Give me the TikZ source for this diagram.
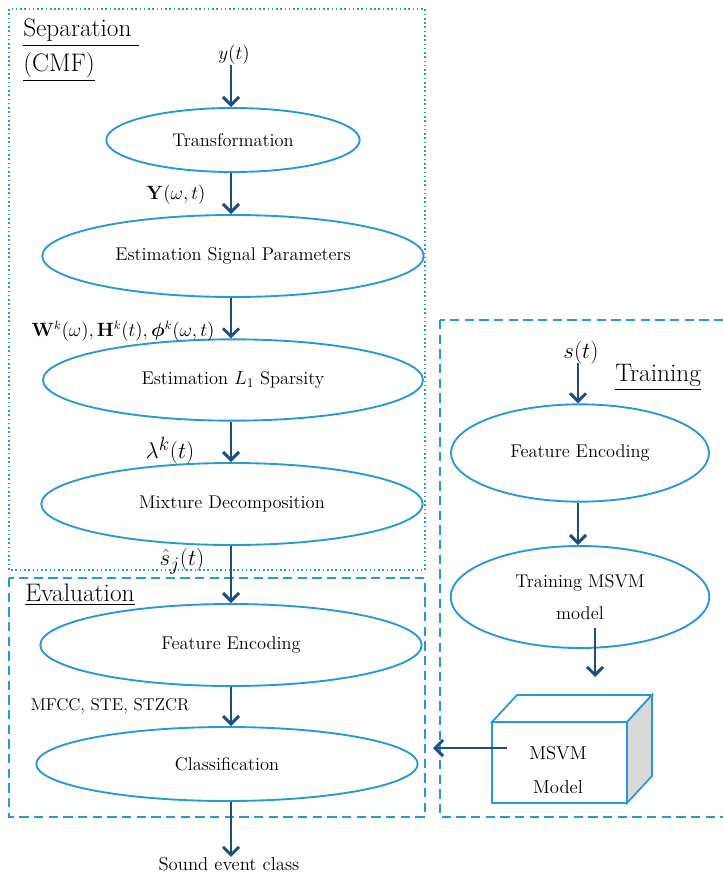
\documentclass[tikz,border=0pt]{standalone}
\usepackage{amsmath,amssymb,bm}
\usepackage{tikz}
\usetikzlibrary{shapes.geometric,arrows.meta,positioning}
\definecolor{lblue}{RGB}{41,151,216}
\definecolor{dblue}{RGB}{31,78,121}
\definecolor{cubegray}{RGB}{217,217,217}
\tikzset{
  blob/.style={ellipse,draw=lblue,line width=1.4pt,inner sep=0pt,font=\fontsize{13.8}{24}\selectfont,align=center},
  flow/.style={draw=dblue,line width=2.2pt,-{Straight Barb[length=6pt,width=12pt]}},
  dotbox/.style={draw=lblue,line width=1.2pt,dotted},
  dashbox/.style={draw=lblue,line width=1.3pt,dash pattern=on 7pt off 4pt},
  ttl/.style={anchor=base west,inner sep=0pt,font=\fontsize{19}{22}\selectfont},
  lbl/.style={inner sep=0pt,font=\fontsize{13.5}{16}\selectfont},
  biglbl/.style={inner sep=0pt,font=\fontsize{19}{22}\selectfont},
}

\begin{document}
\begin{tikzpicture}[x=0.75pt,y=-0.75pt]
    \useasboundingbox (0,0) rectangle (722,874);

    \draw [dotbox] (9,9) rectangle (425,570);
    \draw [dashbox] (9,578) rectangle (425,817);
    \draw [dashbox] (440,320) rectangle (730,817);

    \node [ttl] (sep) at (23,37) {\underline{Separation\ }};
    \node [ttl] (cmf) at (23,71) {\underline{(CMF)}};
    \node [ttl] (eval) at (25,601) {\underline{Evaluation}};
    \node [ttl] (train) at (615,381) {\underline{Training}};

    \node [blob,minimum width=190pt,minimum height=48pt] (transf) at (233,140) {Transformation};
    \node [blob,minimum width=286pt,minimum height=61.5pt] (estpar) at (233,256) {Estimation Signal Parameters};
    \node [blob,minimum width=285pt,minimum height=61pt] (estsp) at (233,380) {Estimation $L_1$ Sparsity};
    \node [blob,minimum width=286pt,minimum height=61.5pt] (mixdec) at (232,504) {Mixture Decomposition};
    \node [blob,minimum width=286pt,minimum height=61.5pt] (featenc) at (231,645) {Feature Encoding};
    \node [blob,minimum width=286pt,minimum height=55.5pt] (classif) at (227,764) {Classification};

    \node [blob,minimum width=193.5pt,minimum height=73pt] (trfeat) at (580,453) {Feature Encoding};
    \node [blob,minimum width=194pt,minimum height=76.5pt] (trmsvm) at (580,597) {Training MSVM\\model};

    \node [lbl,font=\fontsize{15}{18}\selectfont] (yt) at (234,55) {$y(t)$};
    \node [lbl] (ywt) at (176,195) {$\mathbf{Y}(\omega,t)$};
    \node [lbl] (whp) at (123,331) {$\mathbf{W}^k(\omega),\mathbf{H}^k(t),\bm{\phi}^k(\omega,t)$};
    \node [biglbl] (lam) at (170,451) {$\lambda^k(t)$};
    \node [biglbl] (shat) at (182,561) {$\hat{s}_j(t)$};
    \node [lbl,font=\fontsize{12.8}{15}\selectfont] (feats) at (110,706) {MFCC, STE, STZCR};
    \node [lbl,font=\fontsize{14}{17}\selectfont] (out) at (229,864) {Sound event class};
    \node [biglbl] (st) at (581,353) {$s(t)$};

    \draw [flow] (yt.south -| 231,0) -- (transf.north -| 231,0);
    \draw [flow] (transf.south -| 231,0) -- (estpar.north -| 231,0);
    \draw [flow] (estpar.south -| 231,0) -- (estsp.north -| 231,0);
    \draw [flow] (estsp.south -| 231,0) -- (mixdec.north -| 231,0);
    \draw [flow] (mixdec.south -| 231,0) -- (featenc.north -| 231,0);
    \draw [flow] (featenc.south -| 231,0) -- (classif.north -| 231,0);
    \draw [flow] (classif.south -| 231,0) -- (out.north -| 231,0);

    \draw [flow] (578,363) -- (trfeat.north -| 578,0);
    \draw [flow] (trfeat.south -| 578,0) -- (trmsvm.north -| 578,0);

    \coordinate (tmout) at (595,628);
    \coordinate (cubein) at (595,677);
    \draw [flow] (tmout) -- (cubein);

    \draw [lblue,line width=1.3pt,fill=white] (492,722) -- (517,695) -- (652,695) -- (627,722) -- cycle;
    \draw [lblue,line width=1.3pt,fill=cubegray] (627,722) -- (652,695) -- (652,776) -- (627,803) -- cycle;
    \draw [lblue,line width=1.3pt,fill=white] (492,722) rectangle (627,803);
    \node [align=center,inner sep=0pt,font=\fontsize{14}{25}\selectfont] (msvm) at (558,770) {MSVM\\Model};

    \coordinate (cubeout) at (507,748);
    \coordinate (evalin) at (433,748);
    \draw [flow] (cubeout) -- (evalin);
\end{tikzpicture}
\end{document}
